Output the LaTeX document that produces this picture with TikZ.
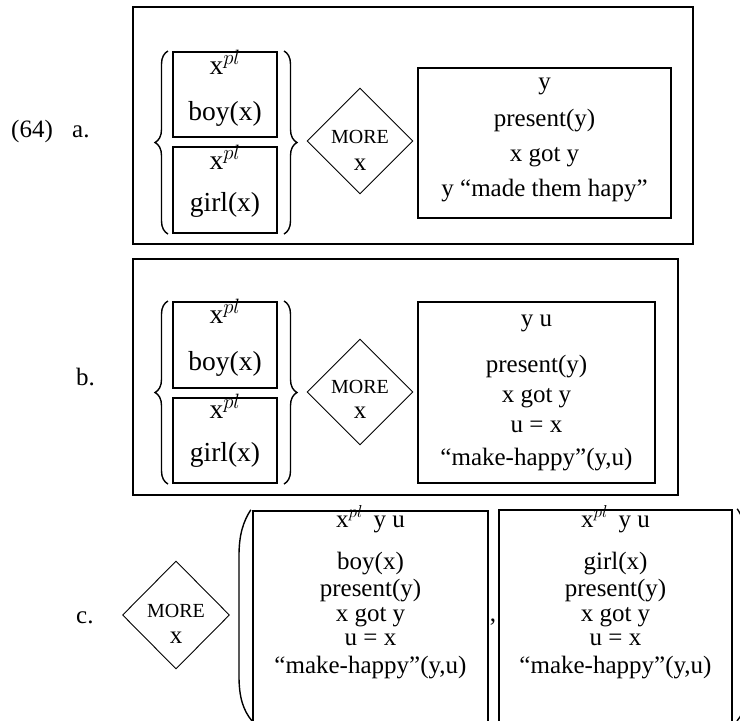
\documentclass[tikz,border=0pt]{standalone}
\usepackage{fontspec}
\setmainfont{Liberation Serif}
\usetikzlibrary{shapes.geometric,decorations.pathreplacing}
\begin{document}
\begin{tikzpicture}[x=1pt,y=-1pt,
  boxwh/.style 2 args={draw,line width=2pt,inner sep=0pt,minimum width=#1,minimum height=#2},
  dia/.style={draw,diamond,line width=0.9pt,inner sep=0pt,minimum width=106,minimum height=106},
  txt/.style={anchor=base,inner sep=0pt,font=\fontsize{25}{30}\selectfont},
  btxt/.style={anchor=base,inner sep=0pt,font=\fontsize{27.5}{32}\selectfont},
  mtxt/.style={anchor=base,inner sep=0pt,font=\fontsize{20}{24}\selectfont},
  brc/.style={decorate,decoration={brace,amplitude=13pt},line width=1.4pt},
  prn/.style={line width=1.4pt}]
\useasboundingbox (0,0) rectangle (740,721);
% labels
\node[txt,anchor=base west] (n64) at (11,137) {(64)};
\node[txt,anchor=base west] (la) at (72,137) {a.};
\node[txt,anchor=base west] (lb) at (76,385) {b.};
\node[txt,anchor=base west] (lc) at (76,623) {c.};
% ---------- a ----------
\node[boxwh={560}{237}] (aout) at (413,125.5) {};
\node[boxwh={104}{85}] (aboy) at (225,94.5) {};
\node[boxwh={104}{86}] (agirl) at (225,190) {};
\node[btxt] (aboyh) at (225,74) {x$^{pl}$};
\node[btxt] (aboyc) at (225,120) {boy(x)};
\node[btxt] (agirlh) at (225,169) {x$^{pl}$};
\node[btxt] (agirlc) at (225,211) {girl(x)};
\draw[brc] ([xshift=-4pt]agirl.south west) -- ([xshift=-4pt]aboy.north west);
\draw[brc] ([xshift=6pt]aboy.north east) -- ([xshift=6pt]agirl.south east);
\node[dia] (adia) at (360,141) {};
\node[mtxt] (amore) at (360,143) {MORE};
\node[txt] (ax) at (360,170) {x};
\node[boxwh={253}{150}] (ares) at (544.5,143) {};
\node[txt] (ar1) at (544.5,89) {y};
\node[txt] (ar2) at (544.5,126) {present(y)};
\node[txt] (ar3) at (544.5,161) {x got y};
\node[txt] (ar4) at (544.5,196) {y “made them hapy”};
% ---------- b ----------
\node[boxwh={545}{236},line width=2.8pt] (bout) at (405.5,377) {};
\node[boxwh={104}{86}] (bboy) at (225,345) {};
\node[boxwh={104}{85}] (bgirl) at (225,440.5) {};
\node[btxt] (bboyh) at (225,323) {x$^{pl}$};
\node[btxt] (bboyc) at (225,370) {boy(x)};
\node[btxt] (bgirlh) at (225,418) {x$^{pl}$};
\node[btxt] (bgirlc) at (225,461) {girl(x)};
\draw[brc] ([xshift=-4pt]bgirl.south west) -- ([xshift=-4pt]bboy.north west);
\draw[brc] ([xshift=6pt]bboy.north east) -- ([xshift=6pt]bgirl.south east);
\node[dia] (bdia) at (360,392) {};
\node[mtxt] (bmore) at (360,393) {MORE};
\node[txt] (bx) at (360,418) {x};
\node[boxwh={237}{181}] (bres) at (536.5,392.5) {};
\node[txt] (br1) at (536.5,326) {y u};
\node[txt] (br2) at (536.5,372) {present(y)};
\node[txt] (br3) at (536.5,402) {x got y};
\node[txt] (br4) at (536.5,432) {u = x};
\node[txt] (br5) at (536.5,465) {“make-happy”(y,u)};
% ---------- c ----------
\node[dia,minimum width=107,minimum height=108] (cdia) at (176,615) {};
\node[mtxt] (cmore) at (176,617) {MORE};
\node[txt] (cx) at (176,643) {x};
\node[boxwh={235}{220},line width=2.4pt] (cbox1) at (370.5,621) {};
\node[boxwh={233}{222},line width=2.4pt] (cbox2) at (615.5,621) {};
\draw[prn] ([xshift=-1pt]cbox1.north west) .. controls (243,522) and (239,535) .. (239,556) -- (239,676) .. controls (239,697) and (243,710) .. (252,721);
\draw[prn] ([xshift=4pt]cbox2.north east) .. controls (746,522) and (749,535) .. (749,556) -- (749,676) .. controls (749,697) and (746,710) .. (737,721);
\node[txt] (comma) at (493,621) {,};
\node[txt] (c1a) at (370.5,527) {x$^{pl}$\, y u};
\node[txt] (c1b) at (370.5,569) {boy(x)};
\node[txt] (c1c) at (370.5,596) {present(y)};
\node[txt] (c1d) at (370.5,621) {x got y};
\node[txt] (c1e) at (370.5,645) {u = x};
\node[txt] (c1f) at (370.5,673) {“make-happy”(y,u)};
\node[txt] (c2a) at (615.5,527) {x$^{pl}$\, y u};
\node[txt] (c2b) at (615.5,569) {girl(x)};
\node[txt] (c2c) at (615.5,596) {present(y)};
\node[txt] (c2d) at (615.5,621) {x got y};
\node[txt] (c2e) at (615.5,645) {u = x};
\node[txt] (c2f) at (615.5,673) {“make-happy”(y,u)};
\end{tikzpicture}
\end{document}
